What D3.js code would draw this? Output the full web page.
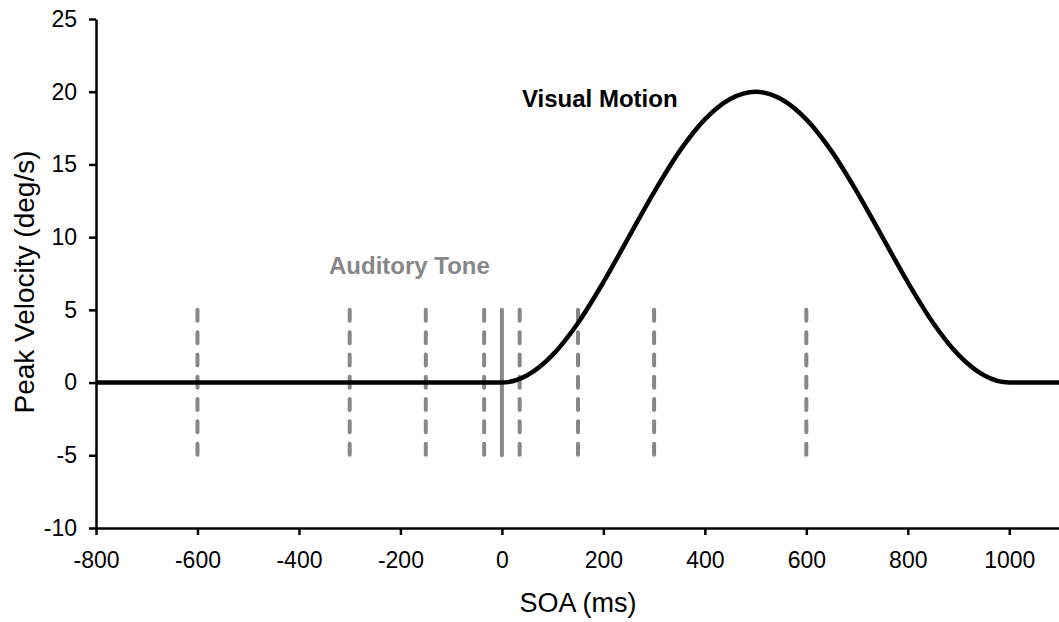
<!DOCTYPE html>
<html>
<head>
<meta charset="utf-8">
<script src="https://cdn.jsdelivr.net/npm/d3@7"></script>
<style>
  html, body { margin: 0; padding: 0; background: #fff; }
  svg { display: block; font-family: "Liberation Sans", Arial, sans-serif; }
</style>
</head>
<body>
<svg id="chart" width="1059" height="622"></svg>
<script>
// Stimulus onset asynchrony (ms) and peak velocity (deg/s) of the visual motion profile
const motionSOA = [-800, 0, 50, 100, 150, 200, 250, 300, 350, 400, 450, 500,
                   550, 600, 650, 700, 750, 800, 850, 900, 950, 1000, 1100];
const motionVelocity = [0, 0, 0.5, 1.9, 4.1, 6.9, 10.0, 13.1, 15.9, 18.1, 19.5, 20.0,
                        19.5, 18.1, 15.9, 13.1, 10.0, 6.9, 4.1, 1.9, 0.5, 0, 0];

// Auditory tone onsets (ms); the 0 ms tone is drawn solid
const toneSOA = [-600, -300, -150, -35, 0, 35, 150, 300, 600];
const toneExtent = [-5, 5];

// Axis ticks
const xTicks = [-800, -600, -400, -200, 0, 200, 400, 600, 800, 1000];
const yTicks = [-10, -5, 0, 5, 10, 15, 20, 25];

const svg = d3.select("#chart");
const plotLeft = 96, plotRight = 1060, plotTop = 19, plotBottom = 528;

const x = d3.scaleLinear().domain([-800, 1100]).range([plotLeft, plotRight]);
const y = d3.scaleLinear().domain([-10, 25]).range([plotBottom, plotTop]);

const gray = "#878787";

// Tone markers
svg.append("g").selectAll("line")
  .data(toneSOA)
  .join("line")
  .attr("x1", d => x(d)).attr("x2", d => x(d))
  .attr("y1", y(toneExtent[1])).attr("y2", y(toneExtent[0]))
  .attr("stroke", gray)
  .attr("stroke-width", 4)
  .attr("stroke-linecap", "round")
  .attr("stroke-dasharray", d => d === 0 ? null : "11,11.3");

// Visual motion velocity profile
const pts = motionSOA.map((s, i) => [s, motionVelocity[i]]);
svg.append("path")
  .datum(pts)
  .attr("fill", "none")
  .attr("stroke", "#000")
  .attr("stroke-width", 4.5)
  .attr("d", d3.line().x(d => x(d[0])).y(d => y(d[1])).curve(d3.curveMonotoneX));

// Axes
const plain = d => String(d);
const xAxis = svg.append("g")
  .attr("transform", `translate(0,${plotBottom})`)
  .call(d3.axisBottom(x).tickValues(xTicks).tickFormat(plain)
    .tickSize(7).tickSizeOuter(0).tickPadding(17));
const yAxis = svg.append("g")
  .attr("transform", `translate(${plotLeft},0)`)
  .call(d3.axisLeft(y).tickValues(yTicks).tickFormat(plain)
    .tickSize(7).tickSizeOuter(0).tickPadding(12));

[xAxis, yAxis].forEach(g => {
  g.select(".domain").attr("stroke", "#000").attr("stroke-width", 2.5);
  g.selectAll(".tick line").attr("stroke", "#000").attr("stroke-width", 2.5);
  g.selectAll(".tick text")
    .attr("fill", "#000")
    .style("font-family", "'Liberation Sans', Arial, sans-serif")
    .style("font-size", "23px");
});

// Axis titles
svg.append("text")
  .attr("x", (plotLeft + plotRight) / 2).attr("y", 612)
  .attr("text-anchor", "middle")
  .style("font-size", "27px")
  .text("SOA (ms)");

svg.append("text")
  .attr("transform", "translate(34,282) rotate(-90)")
  .attr("text-anchor", "middle")
  .style("font-size", "28px")
  .text("Peak Velocity (deg/s)");

// Series labels
svg.append("text")
  .attr("x", 522).attr("y", 107)
  .style("font-size", "24px").style("font-weight", "bold")
  .attr("fill", "#000")
  .text("Visual Motion");

svg.append("text")
  .attr("x", 329).attr("y", 274)
  .style("font-size", "24px").style("font-weight", "bold")
  .attr("fill", gray)
  .text("Auditory Tone");
</script>
</body>
</html>
